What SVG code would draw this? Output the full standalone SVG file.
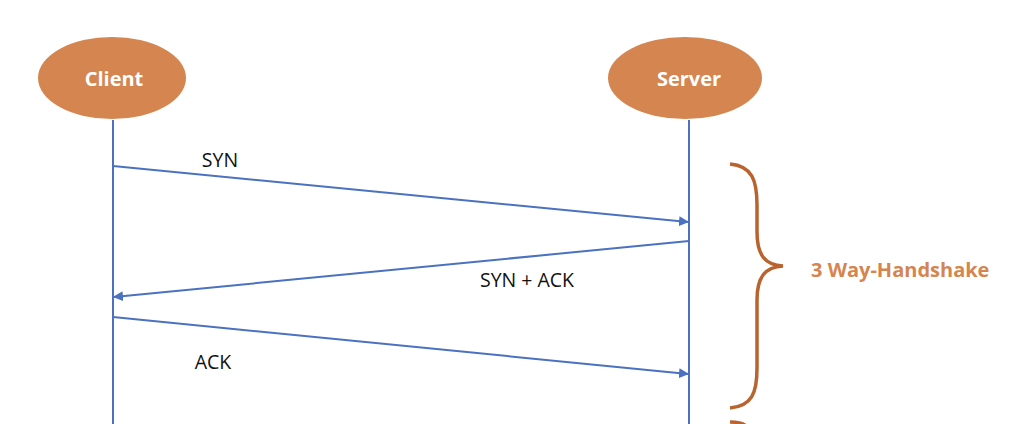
<svg xmlns="http://www.w3.org/2000/svg" width="1026" height="424" viewBox="0 0 1026 424">
<style>
.node{fill:#D5854F}
.nlabel{font-family:"Open Sans","Liberation Sans",sans-serif;font-weight:bold;font-size:20px;fill:#ffffff;text-anchor:middle}
.life{stroke:#4A72C0;stroke-width:2;fill:none}
.msg{stroke:#4A72C0;stroke-width:2;fill:none;marker-end:url(#ah)}
.mlabel{font-family:"Open Sans","Liberation Sans",sans-serif;font-size:19.5px;fill:#111;text-anchor:middle}
.brace{stroke:#B9632F;stroke-width:3.5;fill:none}
</style>
<defs>
<marker id="ah" viewBox="0 0 10 10" refX="9" refY="5" markerWidth="5" markerHeight="5" orient="auto" markerUnits="strokeWidth">
<path d="M0,0 L10,5 L0,10 z" fill="#4A72C0"/>
</marker>
</defs>
<rect width="1026" height="424" fill="#ffffff"/>
<g id="connectors">
<line class="life" x1="113" y1="120" x2="113" y2="424"/>
<line class="life" x1="689" y1="120" x2="689" y2="424"/>
<line class="msg" x1="113" y1="166" x2="688" y2="222"/>
<line class="msg" x1="689" y1="241" x2="114" y2="297"/>
<line class="msg" x1="113" y1="317" x2="688" y2="374"/>
<text class="mlabel" x="220" y="167">SYN</text>
<text class="mlabel" x="527" y="287">SYN + ACK</text>
<text class="mlabel" x="213" y="369">ACK</text>
</g>
<g id="client">
<ellipse class="node" cx="112" cy="78" rx="74" ry="41"/>
<text class="nlabel" x="114" y="86">Client</text>
</g>
<g id="server">
<ellipse class="node" cx="685" cy="78" rx="77" ry="41"/>
<text class="nlabel" x="689" y="86">Server</text>
</g>
<g id="handshake">
<path class="brace" d="M730,164 C752,166 757,180 757,205 L757,232 C757,255 765,265 783,266 C765,267 757,277 757,300 L757,368 C757,393 752,406 730,408"/>
<path class="brace" d="M730,422 C738,422 744,424 746,426"/>
<text x="811" y="277" font-family="Open Sans, Liberation Sans, sans-serif" font-weight="bold" font-size="20" fill="#D5854F">3 Way-Handshake</text>
</g>
</svg>
